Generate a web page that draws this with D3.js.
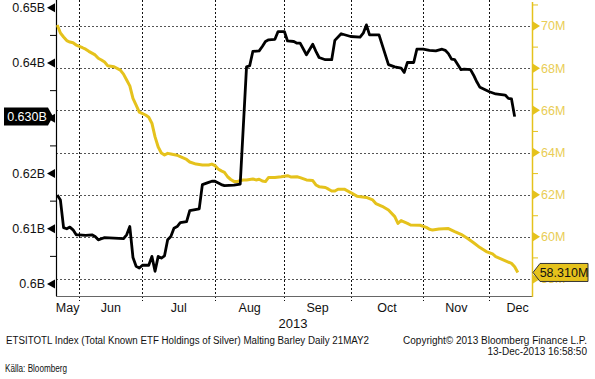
<!DOCTYPE html>
<html>
<head>
<meta charset="utf-8">
<script src="https://cdn.jsdelivr.net/npm/d3@7"></script>
<style>
body { margin: 0; background: #fff; }
text { font-family: "Liberation Sans", Arial, sans-serif; }
</style>
</head>
<body>
<script>
// ETSITOTL Index - total known ETF holdings of silver (billion oz)
var silverHoldings = [
  ["05-23",0.6161],["05-24",0.6152],["05-27",0.6102],["05-28",0.6100],["05-29",0.6103],
  ["05-30",0.6098],["05-31",0.6089],["06-03",0.6089],["06-05",0.6088],["06-07",0.6089],
  ["06-10",0.6086],["06-11",0.6080],["06-12",0.6082],["06-13",0.6084],["06-21",0.6082],
  ["06-24",0.6089],["06-25",0.6104],["06-26",0.6048],["06-27",0.6032],["06-28",0.6029],
  ["07-01",0.6034],["07-03",0.6034],["07-04",0.6050],["07-05",0.6023],["07-08",0.6050],
  ["07-09",0.6047],["07-10",0.6051],["07-11",0.6080],["07-12",0.6086],["07-15",0.6101],
  ["07-16",0.6104],["07-17",0.6111],["07-19",0.6113],["07-22",0.6133],["07-25",0.6136],
  ["07-26",0.6180],["07-30",0.6184],["07-31",0.6186],["08-01",0.6186],["08-05",0.6180],
  ["08-06",0.6178],["08-09",0.6179],["08-13",0.6181],["08-15",0.6393],["08-16",0.6395],
  ["08-19",0.6421],["08-21",0.6422],["08-22",0.6430],["08-23",0.6439],["08-26",0.6442],
  ["08-28",0.6443],["08-29",0.6457],["09-02",0.6457],["09-03",0.6440],["09-05",0.6439],
  ["09-06",0.6436],["09-09",0.6436],["09-11",0.6415],["09-13",0.6434],["09-16",0.6421],
  ["09-17",0.6410],["09-19",0.6406],["09-23",0.6406],["09-24",0.6441],["09-26",0.6453],
  ["10-01",0.6448],["10-04",0.6447],["10-07",0.6454],["10-08",0.6469],["10-09",0.6451],
  ["10-14",0.6451],["10-17",0.6397],["10-21",0.6393],["10-23",0.6391],["10-24",0.6383],
  ["10-25",0.6401],["10-29",0.6401],["10-30",0.6425],["11-01",0.6425],["11-05",0.6423],
  ["11-07",0.6422],["11-11",0.6425],["11-12",0.6423],["11-13",0.6417],["11-14",0.6407],
  ["11-15",0.6406],["11-19",0.6388],["11-20",0.6389],["11-22",0.6388],["11-25",0.6378],
  ["11-26",0.6366],["11-27",0.6356],["12-02",0.6348],["12-04",0.6344],["12-09",0.6342],
  ["12-10",0.6336],["12-11",0.6335],["12-12",0.6303]
];

// Malting Barley (millions)
var maltingBarley = [
  ["05-23",70.05],["05-24",69.67],["05-27",69.48],["05-28",69.31],["05-29",69.24],
  ["05-30",69.21],["05-31",69.10],["06-04",68.97],["06-05",68.90],["06-06",68.80],
  ["06-10",68.63],["06-11",68.47],["06-12",68.39],["06-13",68.29],["06-14",68.12],
  ["06-18",68.07],["06-20",67.91],["06-21",67.72],["06-24",67.44],["06-25",67.16],
  ["06-26",66.57],["06-27",66.25],["06-28",65.92],["07-02",65.78],["07-03",65.67],
  ["07-04",65.39],["07-05",64.74],["07-08",64.26],["07-09",63.98],["07-10",63.88],
  ["07-11",63.96],["07-12",63.93],["07-16",63.87],["07-17",63.80],["07-19",63.67],
  ["07-22",63.55],["07-24",63.45],["07-26",63.41],["07-30",63.41],["07-31",63.45],
  ["08-01",63.38],["08-02",63.22],["08-05",63.13],["08-06",63.06],["08-07",62.85],
  ["08-08",62.72],["08-09",62.63],["08-12",62.62],["08-13",62.67],["08-14",62.70],
  ["08-15",62.70],["08-19",62.74],["08-20",62.70],["08-21",62.73],["08-22",62.65],
  ["08-23",62.62],["08-26",62.82],["08-28",62.82],["08-30",62.85],["09-03",62.90],
  ["09-04",62.84],["09-06",62.85],["09-09",62.81],["09-11",62.70],["09-13",62.67],
  ["09-16",62.46],["09-17",62.38],["09-19",62.34],["09-20",62.26],["09-23",62.17],
  ["09-24",62.17],["09-25",62.26],["09-27",62.26],["10-01",62.10],["10-03",61.93],
  ["10-08",61.87],["10-10",61.75],["10-11",61.58],["10-15",61.45],["10-17",61.27],
  ["10-21",60.96],["10-22",60.64],["10-23",60.77],["10-25",60.64],["10-28",60.56],
  ["10-31",60.55],["11-04",60.45],["11-05",60.36],["11-06",60.32],["11-08",60.37],
  ["11-13",60.39],["11-15",60.25],["11-19",60.12],["11-21",59.93],["11-25",59.72],
  ["11-27",59.49],["11-29",59.30],["12-03",59.19],["12-04",59.06],["12-06",58.93],
  ["12-11",58.74],["12-12",58.58],["12-13",58.31]
];

var monthLabels = ["May","Jun","Jul","Aug","Sep","Oct","Nov","Dec"];
var leftTicks = [0.60, 0.61, 0.62, 0.63, 0.64, 0.65];
var rightTicks = [58, 60, 62, 64, 66, 68, 70];
var yearLabel = "2013";
var footerLeft = "ETSITOTL Index (Total Known ETF Holdings of Silver) Malting Barley  Daily 21MAY2";
var footerRight1 = "Copyright\u00a9 2013 Bloomberg Finance L.P.";
var footerRight2 = "13-Dec-2013 16:58:50";
var sourceText = "K\u00e4lla: Bloomberg";

var W = 595, H = 379;
var plot = {left: 56, right: 532, top: 0, bottom: 296};
var yellow = "#e5c21c";

// trading-day calendar (weekdays only), Bloomberg style x axis
var parse = d3.timeParse("%Y-%m-%d");
var days = d3.timeDay.range(parse("2013-05-21"), parse("2014-01-01"))
  .filter(function(d){ return d.getDay() !== 0 && d.getDay() !== 6; });
var dayIndex = {};
days.forEach(function(d, i){ dayIndex[d3.timeFormat("%m-%d")(d)] = i; });

var x = d3.scaleLinear()
  .domain([dayIndex["05-23"] - 0.4, dayIndex["12-13"] + 4.5])
  .range([plot.left, plot.right]);
var yL = d3.scaleLinear().domain([0.59783, 0.65141]).range([plot.bottom, plot.top]);
var yR = d3.scaleLinear().domain([57.193, 71.235]).range([plot.bottom, plot.top]);

var svg = d3.select("body").append("svg")
  .attr("width", W).attr("height", H);

var lastL = silverHoldings[silverHoldings.length - 1][1];
var lastR = maltingBarley[maltingBarley.length - 1][1];

// month boundaries = first trading day of each month
var monthStarts = [];
days.forEach(function(d, i){
  if (i > 0 && d.getMonth() !== days[i-1].getMonth()) monthStarts.push(i);
});
monthStarts = monthStarts.filter(function(i){ return x(i) < plot.right; });

// grid
svg.append("g").selectAll("line")
  .data(rightTicks)
  .enter().append("line")
  .attr("x1", plot.left).attr("x2", plot.right)
  .attr("y1", function(d){ return Math.round(yR(d)) + 0.5; })
  .attr("y2", function(d){ return Math.round(yR(d)) + 0.5; })
  .attr("stroke", "#555").attr("stroke-dasharray", "2,2");

svg.append("g").selectAll("line")
  .data(monthStarts)
  .enter().append("line")
  .attr("x1", function(d){ return Math.round(x(d)) + 0.5; })
  .attr("x2", function(d){ return Math.round(x(d)) + 0.5; })
  .attr("y1", plot.top).attr("y2", plot.bottom + 5)
  .attr("stroke", "#111").attr("stroke-dasharray", "2,2");

// bottom axis line
svg.append("line")
  .attr("x1", plot.left).attr("x2", plot.right)
  .attr("y1", plot.bottom + 0.5).attr("y2", plot.bottom + 0.5)
  .attr("stroke", "#666");

// month labels centred on each month span
var bounds = [x.domain()[0]].concat(monthStarts);
svg.append("g").selectAll("text")
  .data(monthLabels)
  .enter().append("text")
  .attr("x", function(d, i){
    var a = x(bounds[i]);
    var b = i + 1 < bounds.length ? x(bounds[i+1]) : plot.right + 14;
    return (a + b) / 2;
  })
  .attr("y", 312)
  .attr("text-anchor", "middle")
  .attr("font-size", 12.5)
  .attr("fill", "#111")
  .text(function(d){ return d; });

svg.append("text")
  .attr("x", 293).attr("y", 328)
  .attr("text-anchor", "middle")
  .attr("font-size", 13)
  .attr("fill", "#111")
  .text(yearLabel);

// left axis
svg.append("line")
  .attr("x1", plot.left + 0.5).attr("x2", plot.left + 0.5)
  .attr("y1", plot.top).attr("y2", plot.bottom)
  .attr("stroke", "#000").attr("stroke-width", 1.2);

var lt = svg.append("g").selectAll("g")
  .data(leftTicks)
  .enter().append("g")
  .attr("transform", function(d){ return "translate(0," + yL(d) + ")"; });
lt.append("path")
  .attr("d", "M47,0L55,-4.5L55,4.5Z")
  .attr("fill", "#000");
// the label hidden behind the last-value tag is not drawn
lt.filter(function(d){ return Math.abs(yL(d) - yL(lastL)) > 12; })
  .append("text")
  .attr("x", 45).attr("dy", "0.35em")
  .attr("text-anchor", "end")
  .attr("font-size", 12.5)
  .attr("fill", "#111")
  .text(function(d){ return d3.format(".2~f")(d) + "B"; });

svg.append("g").selectAll("line")
  .data(leftTicks.slice(0, -1))
  .enter().append("line")
  .attr("x1", 50).attr("x2", plot.left)
  .attr("y1", function(d){ return yL(d + 0.005); })
  .attr("y2", function(d){ return yL(d + 0.005); })
  .attr("stroke", "#000");

// right axis
svg.append("line")
  .attr("x1", plot.right + 0.5).attr("x2", plot.right + 0.5)
  .attr("y1", plot.top + 2).attr("y2", plot.bottom + 1)
  .attr("stroke", yellow).attr("stroke-width", 1.5);

var rt = svg.append("g").selectAll("g")
  .data(rightTicks)
  .enter().append("g")
  .attr("transform", function(d){ return "translate(0," + yR(d) + ")"; });
rt.append("path")
  .attr("d", "M533,-4.5L540,0L533,4.5Z")
  .attr("fill", yellow);
rt.append("text")
  .attr("x", 541).attr("dy", "0.35em")
  .attr("font-size", 12.5)
  .attr("fill", "#e9cd55")
  .text(function(d){ return d + "M"; });

svg.append("g").selectAll("line")
  .data(rightTicks)
  .enter().append("line")
  .attr("x1", plot.right).attr("x2", plot.right + 6)
  .attr("y1", function(d){ return yR(d + 1); })
  .attr("y2", function(d){ return yR(d + 1); })
  .attr("stroke", yellow);

// series
svg.append("clipPath").attr("id", "clip")
  .append("rect")
  .attr("x", plot.left).attr("y", plot.top)
  .attr("width", plot.right - plot.left).attr("height", plot.bottom - plot.top);

var lineL = d3.line()
  .x(function(d){ return x(dayIndex[d[0]]); })
  .y(function(d){ return yL(d[1]); });
var lineR = d3.line()
  .x(function(d){ return x(dayIndex[d[0]]); })
  .y(function(d){ return yR(d[1]); });

svg.append("path")
  .datum(maltingBarley)
  .attr("clip-path", "url(#clip)")
  .attr("d", lineR)
  .attr("fill", "none")
  .attr("stroke", yellow)
  .attr("stroke-width", 3)
  .attr("stroke-linejoin", "round");

svg.append("path")
  .datum(silverHoldings)
  .attr("clip-path", "url(#clip)")
  .attr("d", lineL)
  .attr("fill", "none")
  .attr("stroke", "#000")
  .attr("stroke-width", 2.8)
  .attr("stroke-linejoin", "round");

// last value tags
var tagL = svg.append("g").attr("transform", "translate(0," + yL(lastL) + ")");
tagL.append("path").attr("d", "M4,-9H48L53,0L48,9H4Z").attr("fill", "#000");
tagL.append("text")
  .attr("x", 27).attr("dy", "0.36em")
  .attr("text-anchor", "middle")
  .attr("font-size", 12.5)
  .attr("fill", "#fff")
  .text(d3.format(".3f")(lastL) + "B");

var tagR = svg.append("g").attr("transform", "translate(" + plot.right + "," + yR(lastR) + ")");
tagR.append("path").attr("d", "M1,0L8,-9H56V9H8Z")
  .attr("fill", yellow).attr("stroke", "#333").attr("stroke-width", 1);
tagR.append("text")
  .attr("x", 32).attr("dy", "0.36em")
  .attr("text-anchor", "middle")
  .attr("font-size", 12.5)
  .attr("fill", "#111")
  .text(d3.format(".3f")(lastR) + "M");

// footer
svg.append("text")
  .attr("x", 6).attr("y", 344)
  .attr("font-size", 10)
  .attr("textLength", 363).attr("lengthAdjust", "spacingAndGlyphs")
  .attr("fill", "#111")
  .text(footerLeft);
svg.append("text")
  .attr("x", 587).attr("y", 344)
  .attr("text-anchor", "end")
  .attr("font-size", 10)
  .attr("fill", "#111")
  .text(footerRight1);
svg.append("text")
  .attr("x", 587).attr("y", 355)
  .attr("text-anchor", "end")
  .attr("font-size", 10)
  .attr("fill", "#111")
  .text(footerRight2);
svg.append("text")
  .attr("x", 5).attr("y", 372)
  .attr("font-size", 10)
  .attr("textLength", 62).attr("lengthAdjust", "spacingAndGlyphs")
  .attr("fill", "#111")
  .text(sourceText);
</script>
</body>
</html>
